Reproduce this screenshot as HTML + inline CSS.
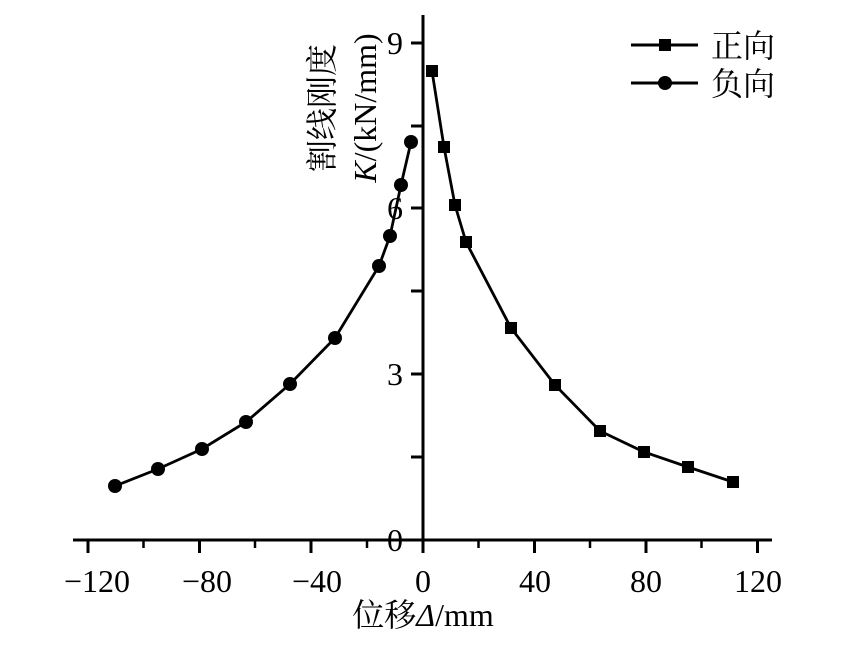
<!DOCTYPE html>
<html><head><meta charset="utf-8"><style>
html,body{margin:0;padding:0;background:#fff}
svg text{font-family:"Liberation Serif","Noto Serif CJK SC",serif;fill:#000}
</style></head><body>
<svg width="843" height="650" viewBox="0 0 843 650" xmlns="http://www.w3.org/2000/svg">
<g stroke="#000" stroke-width="3" fill="none">
<line x1="73" y1="540" x2="772" y2="540"/>
<line x1="423" y1="15" x2="423" y2="541"/>
<path d="M88 540v13M199.5 540v13M311 540v13M423 540v13M534.5 540v13M646 540v13M757.5 540v13"/>
<path d="M143.5 540v8M255 540v8M367 540v8M478.5 540v8M590 540v8M701.5 540v8" stroke-width="2.5"/>
<path d="M411 43h12M411 208h12M411 374h12M411 126h12M411 291h12M411 457h12"/>
</g>
<g font-size="32" text-anchor="middle">
<text x="97" y="592">−120</text>
<text x="207" y="592">−80</text>
<text x="317" y="592">−40</text>
<text x="423" y="592">0</text>
<text x="535" y="592">40</text>
<text x="646" y="592">80</text>
<text x="758" y="592">120</text>
</g>
<g font-size="32" text-anchor="end">
<text x="403" y="54">9</text>
<text x="403" y="219">6</text>
<text x="403" y="385">3</text>
<text x="403" y="551">0</text>
</g>
<text x="423" y="626" font-size="32" text-anchor="middle">位移<tspan font-style="italic">Δ</tspan>/mm</text>
<g transform="translate(322,108) rotate(-90)"><text font-size="32" text-anchor="middle" y="11">割线刚度</text></g>
<g transform="translate(365,108) rotate(-90)"><text font-size="32" text-anchor="middle" y="11"><tspan font-style="italic">K</tspan>/(kN/mm)</text></g>
<g stroke="#000" stroke-width="2.8" fill="none">
<polyline points="432,71 444,147 455,205 466,242 511,328 555,385 600,431 644,452 688,467 733,482"/>
<polyline points="115,486 158,469 202,449 246,422 290,384 335,338 379,266 390,236 401,185 411,142"/>
<line x1="631" y1="45" x2="698" y2="45" stroke-width="3"/>
<line x1="631" y1="83" x2="698" y2="83" stroke-width="3"/>
</g>
<g fill="#000">
<rect x="426" y="65" width="12" height="12"/><rect x="438" y="141" width="12" height="12"/><rect x="449" y="199" width="12" height="12"/><rect x="460" y="236" width="12" height="12"/><rect x="505" y="322" width="12" height="12"/><rect x="549" y="379" width="12" height="12"/><rect x="594" y="425" width="12" height="12"/><rect x="638" y="446" width="12" height="12"/><rect x="682" y="461" width="12" height="12"/><rect x="727" y="476" width="12" height="12"/>
<rect x="659" y="39" width="12" height="12"/>
<circle cx="115" cy="486" r="7"/><circle cx="158" cy="469" r="7"/><circle cx="202" cy="449" r="7"/><circle cx="246" cy="422" r="7"/><circle cx="290" cy="384" r="7"/><circle cx="335" cy="338" r="7"/><circle cx="379" cy="266" r="7"/><circle cx="390" cy="236" r="7"/><circle cx="401" cy="185" r="7"/><circle cx="411" cy="142" r="7"/>
<circle cx="665" cy="83" r="7"/>
</g>
<text x="711" y="57" font-size="32">正向</text>
<text x="711" y="95" font-size="32">负向</text>
</svg>
</body></html>
